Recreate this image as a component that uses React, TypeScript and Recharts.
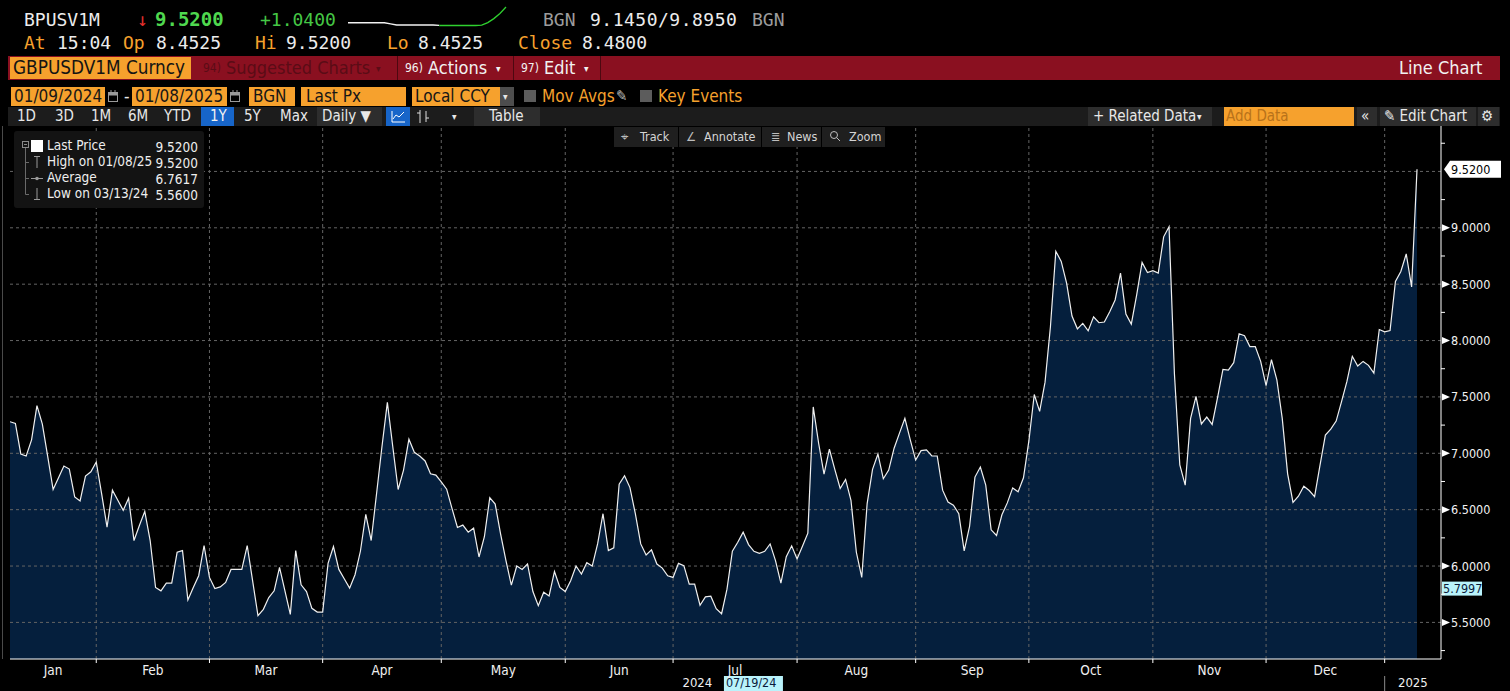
import React from "react";
import { ComposedChart, Area, Line, LineChart, XAxis, YAxis, ReferenceLine } from "recharts";

const COND = '"DejaVu Sans Condensed", "DejaVu Sans", sans-serif';
const MONO = '"DejaVu Sans Mono", monospace';
const ORANGE = "#f6a12d";
const NAVY = "#051f3d";
const GRID = "#646464";
const RED = "#8a1020";

// GBPUSD 1M implied vol, one value per weekday, Jan 2024 .. 08 Jan 2025
const vol1m = [
  7.28, 7.265, 6.994, 6.976, 7.119, 7.423, 7.259, 6.97, 6.679, 6.783, 6.887, 6.86, 6.613, 6.577, 6.798, 6.836,
  6.923, 6.64, 6.345, 6.673, 6.583, 6.494, 6.601, 6.226, 6.36, 6.485, 6.226, 5.81, 5.78, 5.848, 5.848, 6.122, 6.137, 5.699, 5.81, 5.914, 6.182,
  5.899, 5.8, 5.815, 5.854, 5.97, 5.97, 5.97, 6.182, 5.87, 5.56, 5.616, 5.72, 5.78, 5.988, 5.78, 5.571, 6.137, 5.833, 5.774, 5.625, 5.592,
  5.592, 6.024, 6.173, 5.97, 5.887, 5.804, 5.923, 6.131, 6.458, 6.226, 6.643, 7.06, 7.452, 7.06, 6.679, 6.851, 7.125, 7.009, 6.976, 6.932, 6.818, 6.807,
  6.747, 6.682, 6.509, 6.342, 6.363, 6.3, 6.336, 6.08, 6.26, 6.607, 6.55, 6.286, 6.048, 5.83, 6.0, 5.97, 6.018, 5.774, 5.649, 5.768, 5.735, 5.952, 5.81,
  5.774, 5.869, 6.0, 5.929, 6.03, 6.0, 6.196, 6.464, 6.137, 6.161, 6.726, 6.801, 6.696, 6.464, 6.196, 6.098, 6.143, 6.018, 5.982, 5.914,
  5.899, 6.024, 6.003, 5.839, 5.839, 5.652, 5.726, 5.732, 5.622, 5.577, 5.795, 6.131, 6.211, 6.301, 6.19, 6.131, 6.113, 6.131, 6.196, 6.048, 5.848, 6.083, 6.179,
  6.063, 6.176, 6.292, 7.411, 7.089, 6.815, 7.036, 6.857, 6.688, 6.768, 6.583, 6.122, 5.899, 6.554, 6.857, 6.994, 6.774, 6.851, 7.045, 7.179, 7.31, 7.119,
  6.94, 7.024, 7.03, 6.976, 6.976, 6.673, 6.568, 6.54, 6.465, 6.135, 6.351, 6.789, 6.878, 6.717, 6.321, 6.271, 6.455, 6.56, 6.693, 6.658, 6.783,
  7.11, 7.521, 7.372, 7.631, 8.122, 8.792, 8.702, 8.509, 8.217, 8.104, 8.152, 8.086, 8.211, 8.158, 8.164, 8.256, 8.36, 8.598, 8.235, 8.146, 8.405, 8.693, 8.604,
  8.619, 8.598, 8.92, 9.009, 7.705, 6.896, 6.717, 7.31, 7.505, 7.26, 7.321, 7.256, 7.494, 7.744, 7.738, 7.804, 8.06, 8.042, 7.946, 7.946, 7.815,
  7.601, 7.83, 7.652, 7.31, 6.818, 6.565, 6.619, 6.708, 6.67, 6.616, 6.893, 7.161, 7.214, 7.286, 7.458, 7.637, 7.86, 7.774, 7.815, 7.78, 7.711, 8.098,
  8.077, 8.089, 8.524, 8.613, 8.768, 8.476, 9.52,
];

const monthNames = ["Jan", "Feb", "Mar", "Apr", "May", "Jun", "Jul", "Aug", "Sep", "Oct", "Nov", "Dec"];
const monthStarts = [0, 16, 37, 58, 80, 103, 123, 146, 168, 189, 212, 233, 255];
const yearNames = ["2024", "2025"];
const yearStarts = [0, 255];
const yMajor = [5.5, 6, 6.5, 7, 7.5, 8, 8.5, 9, 9.5];
const yMinor = [5.25, 5.75, 6.25, 6.75, 7.25, 7.75, 8.25, 8.75, 9.25, 9.75];
const lastPrice = 9.52;
const cursorValue = 5.7997;
const cursorIndex = 138;
const cursorDate = "07/19/24";

// intraday sparkline in the header
const sparkPrev = [8.61, 8.61, 8.61, 8.61, 8.61, 8.61, 8.61, 8.55, 8.48, 8.48, 8.48, 8.48, 8.48, 8.48, 8.48, 8.46];
const sparkToday = [8.45, 8.45, 8.45, 8.45, 8.45, 8.45, 8.45, 8.47, 8.62, 8.85, 9.15, 9.52];

const series = vol1m.map((v, i) => ({ i, v }));
const X_END = vol1m.length - 1 + 4.45;
const Y_DOMAIN = [5.1754, 9.903];
const boundaries = monthStarts.slice(1);
const monthMids = monthNames.map((_, m) => (monthStarts[m] + monthStarts[m + 1]) / 2);
const yearMids = yearStarts.map((s, k) => (s + (yearStarts[k + 1] ?? X_END)) / 2);
const xTicks = [...boundaries, ...monthMids, ...yearMids].sort((a, b) => a - b);
const yTicks = [...yMinor, ...yMajor].sort((a, b) => a - b);

const sparkData = [
  ...sparkPrev.map((w, i) => ({ w, g: i === sparkPrev.length - 1 ? sparkToday[0] : null })),
  ...sparkToday.slice(1).map((g) => ({ w: null, g })),
];

const XTick = ({ x, y, payload }: any) => {
  const v = payload.value;
  if (boundaries.includes(v)) {
    return (
      <g>
        <line x1={x} x2={x} y1={y} y2={y + 4} stroke="#fff" />
        {yearStarts.includes(v) && <line x1={x} x2={x} y1={y + 17} y2={y + 32} stroke="#8a8a8a" />}
      </g>
    );
  }
  const m = monthMids.indexOf(v);
  if (m >= 0)
    return (
      <text x={x} y={y + 16} textAnchor="middle" fill="#f0f0f0" fontSize={13.5} fontFamily={COND}>
        {monthNames[m]}
      </text>
    );
  const k = yearMids.indexOf(v);
  if (k >= 0)
    return (
      <text x={x} y={y + 28} textAnchor="middle" fill="#f0f0f0" fontSize={13} fontFamily={COND}>
        {yearNames[k]}
      </text>
    );
  return <g />;
};

const YTick = ({ x, y, payload }: any) => {
  const v = payload.value;
  if (yMinor.includes(v)) return <line x1={x} x2={x + 4} y1={y} y2={y} stroke="#fff" />;
  if (Math.abs(v - lastPrice) < 0.1) return <g />;
  return (
    <g>
      <path d={`M${x + 1},${y - 3.5}L${x + 9},${y}L${x + 1},${y + 3.5}Z`} fill="#fff" />
      <text x={x + 10} y={y + 4.5} fill="#f2f2f2" fontSize={12.5} fontFamily={COND}>
        {v.toFixed(4)}
      </text>
    </g>
  );
};

const LastTag = ({ viewBox }: any) => {
  const x = viewBox.x + viewBox.width;
  const y = viewBox.y;
  return (
    <g>
      <path d={`M${x + 3},${y}L${x + 9},${y - 8.5}L${x + 60},${y - 8.5}L${x + 60},${y + 8.5}L${x + 9},${y + 8.5}Z`} fill="#fff" />
      <text x={x + 10} y={y + 4.5} fill="#000" fontSize={12.5} fontFamily={COND}>
        {lastPrice.toFixed(4)}
      </text>
    </g>
  );
};

const CursorValueTag = ({ viewBox }: any) => {
  const x = viewBox.x + viewBox.width;
  const y = viewBox.y;
  return (
    <g>
      <rect x={x + 1} y={y - 7} width={40} height={14} fill="#b9f3fb" />
      <text x={x + 2} y={y + 4.5} fill="#0b1a3a" fontSize={12.5} fontFamily={COND}>
        {cursorValue.toFixed(4)}
      </text>
    </g>
  );
};

const CursorDateTag = ({ viewBox }: any) => {
  const x = viewBox.x;
  const y = viewBox.y + viewBox.height;
  return (
    <g>
      <rect x={x - 30} y={y + 17} width={59} height={15} fill="#b9f3fb" />
      <text x={x - 28} y={y + 28} fill="#0b1a3a" fontSize={12.5} fontFamily={COND}>
        {cursorDate}
      </text>
    </g>
  );
};

const T = ({ x, cy, size, color, font = COND, bold, ls, children }: any) => (
  <div
    style={{
      position: "absolute",
      left: x,
      top: cy - size * 0.5,
      fontSize: size,
      lineHeight: `${size}px`,
      color,
      fontFamily: font,
      fontWeight: bold ? 700 : 400,
      letterSpacing: ls,
      whiteSpace: "nowrap",
    }}
  >
    {children}
  </div>
);

const Box = ({ x, y, w, h, bg, style }: any) => (
  <div style={{ position: "absolute", left: x, top: y, width: w, height: h, background: bg, ...style }} />
);

const CalIcon = ({ x }: any) => (
  <svg style={{ position: "absolute", left: x, top: 90 }} width={12} height={13}>
    <rect x={1.5} y={2.5} width={9} height={9} fill="none" stroke="#9a9a9a" />
    <rect x={1.5} y={2.5} width={9} height={3} fill="#9a9a9a" />
    <line x1={4} x2={4} y1={0} y2={3} stroke="#9a9a9a" />
    <line x1={8} x2={8} y1={0} y2={3} stroke="#9a9a9a" />
  </svg>
);

export default function App() {
  return (
    <div style={{ position: "fixed", left: 0, top: 0, width: 1510, height: 691, background: "#000", overflow: "hidden" }}>
      <div style={{ position: "absolute", left: 0, top: 0 }}>
        <ComposedChart width={1510} height={691} data={series} margin={{ top: 126, right: 0, bottom: 0, left: 10 }}>
          <XAxis
            dataKey="i"
            type="number"
            domain={[0, X_END]}
            allowDataOverflow
            ticks={xTicks}
            interval={0}
            tickLine={false}
            tickSize={0}
            tickMargin={0}
            axisLine={{ stroke: "#fff" }}
            height={32}
            tick={(p: any) => <XTick {...p} />}
          />
          <YAxis
            orientation="right"
            type="number"
            domain={Y_DOMAIN}
            allowDataOverflow
            ticks={yTicks}
            interval={0}
            tickLine={false}
            tickSize={0}
            tickMargin={0}
            axisLine={{ stroke: "#fff" }}
            width={69}
            tick={(p: any) => <YTick {...p} />}
          />
          <Area
            dataKey="v"
            type="linear"
            stroke="none"
            fill={NAVY}
            fillOpacity={1}
            isAnimationActive={false}
            activeDot={false}
          />
          {yMajor.map((v) => (
            <ReferenceLine key={"h" + v} y={v} stroke={GRID} strokeDasharray="3 3" />
          ))}
          {boundaries.map((b) => (
            <ReferenceLine key={"v" + b} x={b} stroke={GRID} strokeDasharray="3 3" />
          ))}
          <Line
            dataKey="v"
            type="linear"
            stroke="#f0f0f0"
            strokeWidth={1.2}
            dot={false}
            activeDot={false}
            isAnimationActive={false}
          />
          <ReferenceLine y={lastPrice} stroke="none" label={(p: any) => <LastTag {...p} />} />
          <ReferenceLine y={cursorValue} stroke="none" label={(p: any) => <CursorValueTag {...p} />} />
          <ReferenceLine x={cursorIndex} stroke="none" label={(p: any) => <CursorDateTag {...p} />} />
        </ComposedChart>
      </div>

      {/* left frame line */}
      <Box x={2} y={126} w={1} h={533} bg="#4a4a4a" />

      {/* header row 1 */}
      <T x={24} cy={19.5} size={18} color="#ececec" font={MONO}>BPUSV1M</T>
      <T x={137} cy={19.5} size={18} color="#e5302e" font={MONO}>↓</T>
      <T x={155} cy={19.5} size={19} color="#4fd84f" font={MONO} bold>9.5200</T>
      <T x={260} cy={19.5} size={18} color="#45c745" font={MONO}>+1.0400</T>
      <div style={{ position: "absolute", left: 347, top: 5 }}>
        <LineChart width={160} height={26} data={sparkData} margin={{ top: 1, right: 1, bottom: 1, left: 1 }}>
          <XAxis hide />
          <YAxis hide domain={[8.19, 9.58]} />
          <Line dataKey="w" stroke="#f2f2f2" strokeWidth={1.3} dot={false} isAnimationActive={false} />
          <Line dataKey="g" stroke="#2fd12f" strokeWidth={1.3} dot={false} isAnimationActive={false} />
        </LineChart>
      </div>
      <T x={543} cy={19.5} size={18} color="#9c9c9c" font={MONO}>BGN</T>
      <T x={590} cy={19.5} size={18} color="#ececec" font={MONO} ls={0.5}>9.1450/9.8950</T>
      <T x={752} cy={19.5} size={18} color="#9c9c9c" font={MONO}>BGN</T>

      {/* header row 2 */}
      <T x={24} cy={43} size={18} color={ORANGE} font={MONO}>At</T>
      <T x={57} cy={43} size={18} color="#ececec" font={MONO}>15:04</T>
      <T x={123} cy={43} size={18} color={ORANGE} font={MONO}>Op</T>
      <T x={156} cy={43} size={18} color="#ececec" font={MONO}>8.4525</T>
      <T x={255} cy={43} size={18} color={ORANGE} font={MONO}>Hi</T>
      <T x={286} cy={43} size={18} color="#ececec" font={MONO}>9.5200</T>
      <T x={387} cy={43} size={18} color={ORANGE} font={MONO}>Lo</T>
      <T x={418} cy={43} size={18} color="#ececec" font={MONO}>8.4525</T>
      <T x={518} cy={43} size={18} color={ORANGE} font={MONO}>Close</T>
      <T x={582} cy={43} size={18} color="#ececec" font={MONO}>8.4800</T>

      {/* red function bar */}
      <Box x={8} y={56} w={1492} h={24} bg={RED} />
      <Box x={10} y={57} w={181} h={22} bg={ORANGE} />
      <T x={13} cy={68} size={18.8} color="#141414">GBPUSDV1M Curncy</T>
      <T x={203} cy={68} size={12} color="#5a0c16">94)</T>
      <T x={226} cy={68} size={18} color="#5a0c16">Suggested Charts</T>
      <T x={376} cy={69} size={10} color="#5a0c16">▾</T>
      <Box x={397} y={56} w={1} h={24} bg="#4d0810" />
      <T x={405} cy={68} size={12} color="#f2f2f2">96)</T>
      <T x={428} cy={68} size={18} color="#f2f2f2">Actions</T>
      <T x={496} cy={69} size={10} color="#f2f2f2">▾</T>
      <Box x={513} y={56} w={1} h={24} bg="#4d0810" />
      <T x={521} cy={68} size={12} color="#f2f2f2">97)</T>
      <T x={544} cy={68} size={18} color="#f2f2f2">Edit</T>
      <T x={584} cy={69} size={10} color="#f2f2f2">▾</T>
      <Box x={600} y={56} w={1} h={24} bg="#4d0810" />
      <T x={1399} cy={68} size={18} color="#f2f2f2">Line Chart</T>

      {/* date / source row */}
      <Box x={11} y={87} w={94} h={19} bg={ORANGE} />
      <T x={14} cy={96.5} size={17} color="#161616">01/09/2024</T>
      <CalIcon x={107} />
      <T x={124} cy={96.5} size={17} color="#e8e8e8">-</T>
      <Box x={132} y={87} w={95} h={19} bg={ORANGE} />
      <T x={135} cy={96.5} size={17} color="#161616">01/08/2025</T>
      <CalIcon x={229} />
      <Box x={249} y={87} w={46} h={19} bg={ORANGE} />
      <T x={253} cy={96.5} size={17} color="#161616">BGN</T>
      <Box x={301} y={87} w={105} h={19} bg={ORANGE} />
      <T x={306} cy={96.5} size={17} color="#161616">Last Px</T>
      <Box x={412} y={87} w={88} h={19} bg={ORANGE} />
      <T x={415} cy={96.5} size={17} color="#161616">Local CCY</T>
      <Box x={500} y={87} w={14} h={19} bg="#4d4d4d" />
      <T x={503} cy={97} size={10} color="#e8e8e8">▾</T>
      <Box x={524} y={90} w={12} h={12} bg="#5c5c5c" />
      <T x={542} cy={96.5} size={17} color={ORANGE}>Mov Avgs</T>
      <T x={616} cy={96.5} size={15} color="#b8b8b8">✎</T>
      <Box x={640} y={90} w={12} h={12} bg="#5c5c5c" />
      <T x={658} cy={96.5} size={17} color={ORANGE}>Key Events</T>

      {/* range toolbar */}
      <Box x={8} y={107} w={1492} h={19} bg="#1c1c1c" />
      <T x={17} cy={116.5} size={15} color="#e8e8e8">1D</T>
      <T x={55} cy={116.5} size={15} color="#e8e8e8">3D</T>
      <T x={91} cy={116.5} size={15} color="#e8e8e8">1M</T>
      <T x={128} cy={116.5} size={15} color="#e8e8e8">6M</T>
      <T x={164} cy={116.5} size={15} color="#e8e8e8">YTD</T>
      <Box x={201} y={107} w={33} h={19} bg="#1765c9" />
      <T x={210} cy={116.5} size={15} color="#f2f2f2">1Y</T>
      <T x={244} cy={116.5} size={15} color="#e8e8e8">5Y</T>
      <T x={280} cy={116.5} size={15} color="#e8e8e8">Max</T>
      <Box x={317} y={107} w={65} h={19} bg="#2d2d2d" />
      <T x={322} cy={116.5} size={15} color="#e8e8e8">Daily ▼</T>
      <Box x={386} y={107} w={24} h={19} bg="#1765c9" />
      <svg style={{ position: "absolute", left: 386, top: 107 }} width={24} height={19}>
        <polyline points="6,4 6,15 19,15" fill="none" stroke="#fff" strokeWidth={1} />
        <polyline points="7,12 10,8 13,10 18,5" fill="none" stroke="#fff" strokeWidth={1} />
      </svg>
      <svg style={{ position: "absolute", left: 414, top: 107 }} width={18} height={19}>
        <line x1={6} x2={6} y1={3} y2={16} stroke="#ddd" />
        <line x1={3} x2={6} y1={6} y2={6} stroke="#ddd" />
        <line x1={12} x2={12} y1={4} y2={15} stroke="#ddd" />
        <line x1={12} x2={15} y1={11} y2={11} stroke="#ddd" />
      </svg>
      <T x={452} cy={117} size={10} color="#e8e8e8">▾</T>
      <Box x={474} y={107} w={66} h={19} bg="#2d2d2d" />
      <T x={489} cy={116.5} size={15} color="#e8e8e8">Table</T>
      <Box x={1088} y={107} w={124} h={19} bg="#2d2d2d" />
      <T x={1093} cy={116.5} size={15} color="#e8e8e8">+ Related Data</T>
      <T x={1197} cy={117} size={10} color="#e8e8e8">▾</T>
      <Box x={1224} y={107} w={130} h={19} bg={ORANGE} />
      <T x={1226} cy={116.5} size={15} color="#b8721a">Add Data</T>
      <Box x={1357} y={107} w={20} h={19} bg="#2d2d2d" />
      <T x={1361} cy={116.5} size={15} color="#e8e8e8">«</T>
      <Box x={1380} y={107} w={96} h={19} bg="#2d2d2d" />
      <T x={1384} cy={116.5} size={15} color="#e8e8e8">✎ Edit Chart</T>
      <Box x={1478} y={107} w={21} h={19} bg="#2d2d2d" />
      <T x={1481} cy={116.5} size={15} color="#e8e8e8">⚙</T>

      {/* floating chart tools */}
      <Box x={614} y={127} w={64} h={20} bg="#1f1f1f" />
      <Box x={679} y={127} w={82} h={20} bg="#1f1f1f" />
      <Box x={762} y={127} w={59} h={20} bg="#1f1f1f" />
      <Box x={822} y={127} w={63} h={20} bg="#1f1f1f" />
      <T x={621} cy={137} size={12.5} color="#bdbdbd">⌖</T>
      <T x={640} cy={137} size={12.5} color="#d4d4d4">Track</T>
      <T x={686} cy={137} size={12.5} color="#bdbdbd">∠</T>
      <T x={704} cy={137} size={12.5} color="#d4d4d4">Annotate</T>
      <T x={771} cy={137} size={12.5} color="#bdbdbd">≣</T>
      <T x={787} cy={137} size={12.5} color="#d4d4d4">News</T>
      <svg style={{ position: "absolute", left: 829, top: 130 }} width={12} height={13}>
        <circle cx={5} cy={5} r={3.5} fill="none" stroke="#bdbdbd" />
        <line x1={7.5} y1={7.5} x2={11} y2={11} stroke="#bdbdbd" />
      </svg>
      <T x={849} cy={137} size={12.5} color="#d4d4d4">Zoom</T>

      {/* legend */}
      <Box x={14} y={131} w={190} h={77} bg="#131313" style={{ borderRadius: 3 }} />
      <svg style={{ position: "absolute", left: 18, top: 138 }} width={30} height={64}>
        <rect x={4.5} y={3.5} width={6} height={6} fill="none" stroke="#8a8a8a" />
        <line x1={6} x2={9} y1={6.5} y2={6.5} stroke="#8a8a8a" />
        <line x1={7.5} x2={7.5} y1={10} y2={56.5} stroke="#6a6a6a" />
        <line x1={7.5} x2={11} y1={24.5} y2={24.5} stroke="#6a6a6a" />
        <line x1={7.5} x2={11} y1={40.5} y2={40.5} stroke="#6a6a6a" />
        <line x1={7.5} x2={11} y1={56.5} y2={56.5} stroke="#6a6a6a" />
        <line x1={16} x2={22} y1={18.5} y2={18.5} stroke="#9a9a9a" />
        <line x1={19} x2={19} y1={18.5} y2={30} stroke="#9a9a9a" />
        <line x1={13} x2={25} y1={40.5} y2={40.5} stroke="#9a9a9a" />
        <circle cx={19} cy={40.5} r={1.8} fill="#9a9a9a" />
        <line x1={19} x2={19} y1={50} y2={61.5} stroke="#9a9a9a" />
        <line x1={16} x2={22} y1={61.5} y2={61.5} stroke="#9a9a9a" />
      </svg>
      <Box x={31} y={140} w={12} h={12} bg="#fff" />
      <T x={47} cy={146} size={13.5} color="#eeeeee">Last Price</T>
      <T x={47} cy={162} size={13.5} color="#eeeeee">High on 01/08/25</T>
      <T x={47} cy={178} size={13.5} color="#eeeeee">Average</T>
      <T x={47} cy={194} size={13.5} color="#eeeeee">Low on 03/13/24</T>
      <div style={{ position: "absolute", left: 140, top: 139, width: 58, textAlign: "right", fontFamily: COND, fontSize: 13.5, lineHeight: "16px", color: "#eeeeee" }}>
        <div>9.5200</div>
        <div>9.5200</div>
        <div>6.7617</div>
        <div>5.5600</div>
      </div>
    </div>
  );
}
